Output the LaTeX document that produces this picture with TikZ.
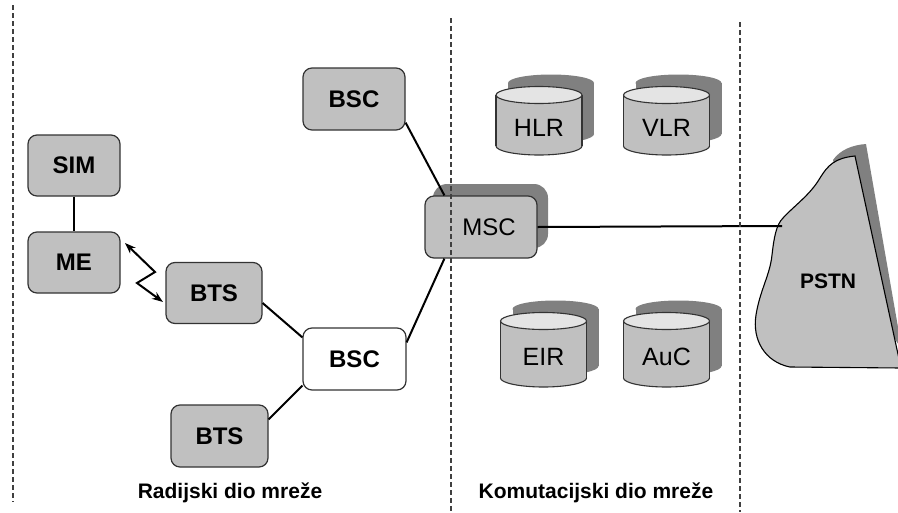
\documentclass[tikz,border=0pt]{standalone}
\usepackage{fontspec}
\setmainfont{Liberation Sans}
\usetikzlibrary{arrows.meta}
\definecolor{boxgray}{HTML}{C0C0C0}
\definecolor{shadowgray}{HTML}{808080}
\definecolor{topgray}{HTML}{E4E4E4}
\definecolor{edgegray}{HTML}{333333}
\definecolor{dashgray}{HTML}{404040}
\tikzset{
  unitbox/.style={draw=edgegray, line width=1.2pt, rounded corners=9pt, fill=boxgray,
    minimum width=96pt, minimum height=61pt, inner sep=0pt,
    font=\fontsize{24}{24}\selectfont\bfseries},
  whitebox/.style={unitbox, fill=white},
  cyltext/.style={inner sep=0pt, font=\fontsize{25}{25}\selectfont},
  link/.style={line width=2pt, black},
  divider/.style={dashgray, line width=1.3pt, dash pattern=on 5pt off 3pt},
  caption/.style={inner sep=0pt, anchor=base, font=\fontsize{21}{21}\selectfont\bfseries},
}
\newcommand{\dbcyl}[5]{%
  % name, cx, ty, by, text
  \fill[shadowgray] (#2-31,#3-12) rectangle (#2+55,#4-12);
  \fill[shadowgray] (#2+12,#3-12) ellipse [x radius=43pt, y radius=8.5pt];
  \fill[shadowgray] (#2+12,#4-12) ellipse [x radius=43pt, y radius=9pt];
  \filldraw[fill=boxgray, draw=edgegray, line width=1.1pt] (#2,#4) ellipse [x radius=43pt, y radius=9pt];
  \fill[boxgray] (#2-43,#3) rectangle (#2+43,#4);
  \draw[edgegray, line width=1.1pt] (#2-43,#3) -- (#2-43,#4) (#2+43,#3) -- (#2+43,#4);
  \filldraw[fill=topgray, draw=edgegray, line width=1.1pt] (#2,#3) ellipse [x radius=43pt, y radius=8.5pt];
  \node[cyltext] (#1) at (#2,{(#3+#4)/2+7}) {#5};
}
\begin{document}
\begin{tikzpicture}[x=1pt, y=-1pt]
\useasboundingbox (0,0) rectangle (898,512);
\fill[white] (0,0) rectangle (898,512);

% radio part
\node[unitbox, minimum width=92pt] (sim) at (74,165.5) {SIM};
\node[unitbox, minimum width=92pt] (me) at (74,262.5) {ME};
\node[unitbox] (bts1) at (214,293) {BTS};
\node[unitbox, minimum width=97pt, minimum height=62pt] (bts2) at (219.5,436) {BTS};
\node[unitbox, minimum width=102pt, minimum height=62pt] (bsc1) at (354,99) {BSC};
\node[whitebox, minimum width=103pt, minimum height=62pt] (bsc2) at (354.5,359) {BSC};

% MSC with shadow
\fill[shadowgray, rounded corners=14pt] (433,184) rectangle (548,248);
\node[unitbox, minimum width=112pt, minimum height=62pt,
      font=\fontsize{24}{24}\selectfont] (msc) at (481,227) {\hspace{16pt}MSC};

% databases
\dbcyl{hlr}{539}{95}{146}{HLR}
\dbcyl{vlr}{666.5}{95}{146}{VLR}
\dbcyl{eir}{543.5}{321}{378}{EIR}
\dbcyl{auc}{666.5}{321}{378}{AuC}

% PSTN cloud
\begin{scope}
\clip (0,0) rectangle (898,512);
\fill[shadowgray] (833,160) .. controls (840,150) and (852,145) .. (866,144)
  -- (902,350) -- (870,300) -- cycle;
\filldraw[fill=boxgray, draw=black, line width=1.1pt]
  (855,156) -- (901,368) -- (790,367)
  .. controls (765,362) and (752,340) .. (756,315)
  .. controls (760,290) and (770,275) .. (772,255)
  .. controls (774,238) and (776,225) .. (783,218)
  .. controls (795,205) and (810,195) .. (820,178)
  .. controls (828,165) and (835,158) .. (855,156) -- cycle;
\end{scope}
\node[inner sep=0pt, font=\fontsize{21}{21}\selectfont\bfseries] (pstn) at (828,281) {PSTN};
\coordinate (pstnin) at (782,226);

% connectors
\draw[link] (sim) -- (me);
\coordinate (za) at (125,243);
\coordinate (zb) at (155,272);
\coordinate (zc) at (137,283);
\coordinate (zd) at (163,302);
\draw[link, {Stealth[length=11pt,width=8pt]}-{Stealth[length=11pt,width=8pt]}]
  (za) -- (zb) -- (zc) -- (zd);
\draw[link] ([yshift=-10pt]bts1.east) -- ([yshift=-10pt]bsc2.north west);
\draw[link] ([yshift=-15pt]bts2.north east) -- ([yshift=5pt]bsc2.south west);
\draw[link] ([yshift=-15pt]bsc2.north east) -- ([xshift=20pt]msc.south west);
\draw[link] ([yshift=8pt]bsc1.south east) -- ([xshift=20pt]msc.north west);
\draw[link] (msc.east) -- (pstnin);

% dividers
\draw[divider] (13,5) -- (13,502);
\draw[divider] (451,18) -- (451,512);
\draw[divider] (740,22) -- (740,512);

% captions
\node[caption] (radio) at (230,498) {Radijski dio mreže};
\node[caption] (switch) at (596,498) {Komutacijski dio mreže};
\end{tikzpicture}
\end{document}
